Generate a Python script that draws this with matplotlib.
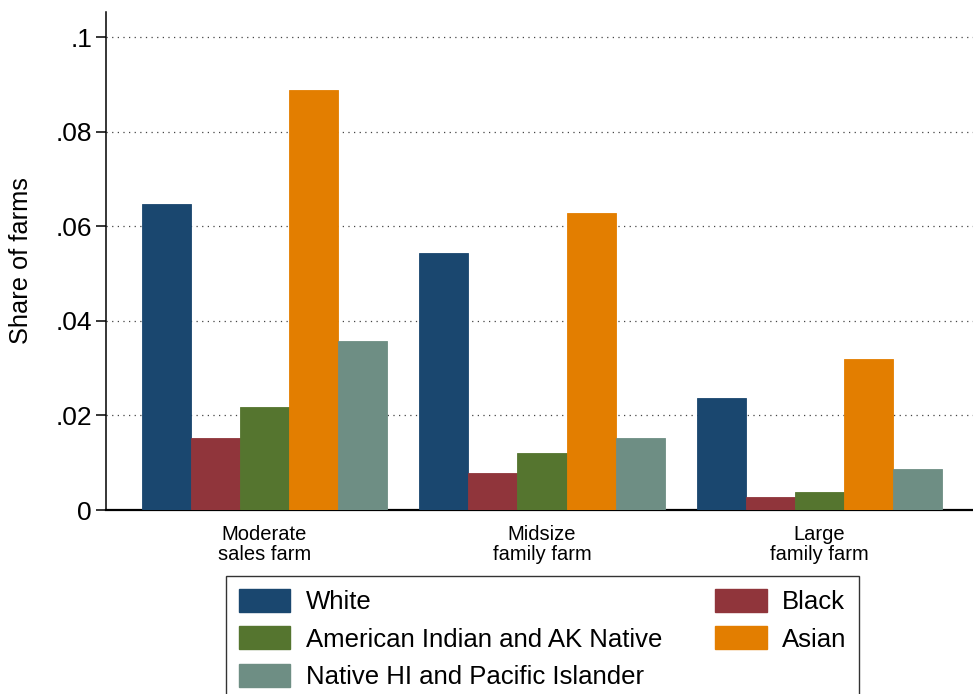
import numpy as np
import matplotlib.pyplot as plt
from matplotlib.patches import Patch

plt.rcParams['font.family'] = ['Liberation Sans', 'DejaVu Sans']

# data
farm_types = ['Moderate\nsales farm', 'Midsize\nfamily farm', 'Large\nfamily farm']
races = ['White', 'Black', 'American Indian and AK Native', 'Asian',
         'Native HI and Pacific Islander']
white = [0.0647, 0.0543, 0.0237]
black = [0.0152, 0.0078, 0.0027]
amind = [0.0218, 0.0121, 0.0038]
asian = [0.0888, 0.0628, 0.0319]
nhpi = [0.0357, 0.0152, 0.0087]
yticks = [0, 0.02, 0.04, 0.06, 0.08, 0.1]
ytick_labels = ['0', '.02', '.04', '.06', '.08', '.1']

series = [white, black, amind, asian, nhpi]
colors = ['#1a476f', '#90353b', '#55752f', '#e37e00', '#6e8e84']

fig = plt.figure(figsize=(9.73, 6.94), dpi=100)
ax = fig.add_axes([106/973, 1 - 510/694, 1 - 106/973, (510 - 12)/694])

x = np.arange(len(farm_types))
w = 0.1766
for i, (vals, c) in enumerate(zip(series, colors)):
    ax.bar(x + (i - 2) * w, vals, width=w, color=c, edgecolor=c,
           linewidth=0.6, zorder=3)

ax.set_xlim(-0.571, 2.553)
ax.set_ylim(0, 0.1053)
ax.set_yticks(yticks)
ax.set_yticklabels(ytick_labels, fontsize=19)
ax.set_xticks(x)
ax.set_xticklabels(farm_types, fontsize=14.5, linespacing=1.05)
ax.tick_params(axis='x', length=0, pad=11)
ax.tick_params(axis='y', length=7, width=1.1, pad=3)
ax.set_ylabel('Share of farms', fontsize=18.3, labelpad=16)

ax.yaxis.grid(True, linestyle=(0, (1, 3.5)), color='#444444', linewidth=0.9,
              zorder=0)
for s in ['top', 'right']:
    ax.spines[s].set_visible(False)
ax.spines['left'].set_linewidth(1.1)
ax.spines['bottom'].set_linewidth(1.6)

# legend laid out like Stata: column-major with 2 columns
order = [0, 2, 4, 1, 3]
handles = [Patch(facecolor=colors[k], edgecolor=colors[k]) for k in order]
labels = [races[k] for k in order]
leg = fig.legend(handles, labels, ncol=2, loc='upper left',
                 bbox_to_anchor=(226/973, 1 - 576/694), fontsize=18.5,
                 frameon=True, fancybox=False, edgecolor='black',
                 handlelength=2.0, handleheight=1.0, handletextpad=0.6,
                 labelspacing=0.47, columnspacing=2.07, borderpad=0.5,
                 borderaxespad=0)
leg.get_frame().set_linewidth(1.0)

fig.savefig('out.png', dpi=100)
